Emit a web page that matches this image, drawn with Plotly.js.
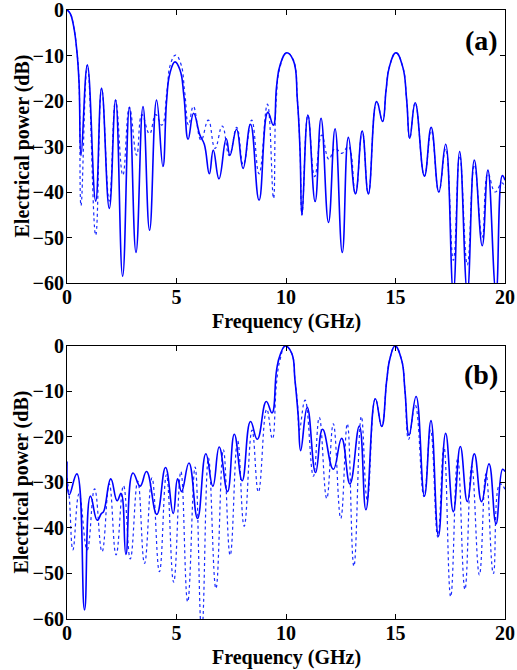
<!DOCTYPE html>
<html>
<head>
<meta charset="utf-8">
<script src="https://cdn.plot.ly/plotly-3.0.1.min.js"></script>
<style>html,body{margin:0;padding:0;background:#fff;}#chart{width:517px;height:670px;}</style>
</head>
<body>
<div id="chart"></div>
<script>
// ---- Panel (a) ----
var aSolidFreq = [0,0.15,0.3,0.45,0.55,0.64,0.93,1.31,1.58,1.93,2.22,2.54,2.85,3.15,3.47,3.77,4.09,4.38,
  4.55,4.7,4.93,5.16,5.34,5.53,5.78,6.07,6.27,6.5,6.68,6.94,7.27,7.44,7.74,8.04,8.38,8.77,9.17,9.42,
  9.57,9.73,10.03,10.33,10.52,10.64,10.73,11.0,11.33,11.6,11.94,12.24,12.57,12.85,13.17,13.48,13.76,14.14,14.41,
  14.57,14.72,15.02,15.33,15.51,15.65,15.9,16.32,16.63,16.98,17.29,17.64,17.93,18.28,18.6,18.96,19.22,19.59,19.88,20];
var aSolidPow = [0,-0.8,-3.5,-9,-16,-32,-12.1,-42,-17.2,-43.6,-19.8,-58.5,-21.4,-53.3,-21.2,-48.4,-19.8,-34.4,
  -19.8,-13.9,-11.4,-13.2,-19,-28.4,-22.7,-27.5,-29.5,-36,-30.8,-37.1,-28.3,-31.9,-26.2,-34.8,-25.1,-41.8,-22.5,-25.3,
  -16.8,-12.1,-9.4,-11,-19.8,-30.8,-45.1,-23.1,-42.1,-23.8,-46.7,-26.1,-53.3,-28,-40.4,-26.6,-40.4,-20.1,-24.5,
  -17.6,-12.5,-9.4,-12.5,-19.8,-28.2,-20.4,-36.5,-25.8,-40,-29.5,-62,-31.1,-62,-33,-51.8,-35.2,-62,-36.4,-37.4];

var aDotFreq = [0,0.15,0.3,0.45,0.55,0.64,0.93,1.31,1.58,1.93,2.22,2.55,2.85,3.18,3.42,3.77,4.05,4.33,
  4.57,4.72,4.96,5.19,5.38,5.55,5.77,6.12,6.45,6.76,7.09,7.41,7.75,8.05,8.43,8.77,9.15,9.43,
  9.55,9.73,10.03,10.33,10.52,10.64,10.73,11.0,11.31,11.63,11.96,12.24,12.55,12.85,13.17,13.48,13.76,14.14,14.41,
  14.57,14.72,15.02,15.33,15.51,15.65,15.9,16.32,16.63,16.98,17.29,17.64,17.93,18.28,18.6,18.96,19.22,19.55,19.86,20];
var aDotPow = [0,-0.8,-3.5,-9,-16,-43,-12.1,-49.5,-17.2,-42,-19.8,-36.3,-21.4,-31.9,-23,-27.2,-23,-25.3,
  -17.6,-12,-9.9,-11.7,-18.3,-25.3,-21.2,-28.6,-24.2,-30.4,-25.5,-32,-25.8,-34,-24.2,-36,-20.7,-41.4,
  -20,-12.5,-9.4,-11,-19.8,-30.8,-45,-23.1,-36.6,-27.5,-32.8,-30.4,-31.5,-30,-40.4,-26.6,-40.4,-20.1,-24.5,
  -17.6,-12.5,-9.4,-12.5,-19.8,-28.2,-20.4,-36.5,-26.5,-40,-30.5,-55,-32,-56,-34,-50,-36,-40,-38,-39];

// ---- Panel (b) ----
var bSolidFreq = [0,0.1,0.45,0.8,1.07,1.38,1.57,1.67,2.0,2.29,2.47,2.69,3.01,3.34,3.63,4.1,4.5,4.85,5.05,5.23,5.57,5.96,6.34,6.66,6.95,7.33,7.64,8.0,8.38,8.69,9.1,9.36,
  9.57,9.73,9.97,10.26,10.41,10.56,10.67,10.97,11.35,11.67,12.16,12.54,12.92,13.35,13.65,14.08,14.37,
  14.6,14.75,14.98,15.28,15.43,15.62,15.94,16.32,16.62,16.96,17.29,17.64,17.96,18.28,18.6,18.93,19.27,19.59,19.89,20];
var bSolidPow = [-25.4,-32.7,-28.1,-58,-33,-38.3,-36.8,-36.4,-29.2,-34,-32.4,-45.8,-27.9,-30.8,-27.6,-37,-26.7,-36.8,-29.2,-32,-25.7,-37.9,-23.7,-30.8,-22.2,-32,-19.4,-29.6,-16.6,-20.5,-12.2,-14.7,
  -5.3,-2,0,-1.6,-7.5,-15.5,-23,-13.5,-27.8,-18.3,-27.1,-20.3,-30.3,-17.6,-36,-11.6,-17.7,
  -7.5,-2.7,0,-3.1,-9.7,-19.6,-11.1,-33,-16.4,-41.8,-19.2,-36.4,-22.1,-34.2,-23.7,-34.2,-25.9,-39.1,-27.1,-27.6];

var bDotFreq = [0,0.1,0.27,0.55,0.92,1.26,1.6,1.93,2.24,2.58,2.89,3.23,3.54,3.88,4.22,4.54,4.87,5.2,5.51,5.85,6.15,6.46,6.8,7.14,7.45,7.79,8.09,8.45,8.74,9.12,9.38,
  9.57,9.73,9.97,10.26,10.41,10.53,10.61,10.87,11.25,11.52,11.86,12.16,12.5,12.8,13.1,13.44,13.71,14.08,14.37,
  14.6,14.75,14.98,15.28,15.43,15.6,15.9,16.3,16.6,16.93,17.21,17.52,17.84,18.17,18.48,18.83,19.13,19.47,19.77,20];
var bDotPow = [-29,-33,-44.8,-32.5,-44.8,-31.4,-45.2,-30.3,-45.9,-30.7,-46.8,-29.7,-47.8,-29,-49.6,-28.3,-51.9,-27.6,-56.2,-26.6,-63,-24.6,-53.3,-22.8,-46,-20.8,-39.6,-18.5,-32.1,-13.9,-20.4,
  -8,-3,0,-1.6,-7.5,-13,-18.5,-11.9,-28.6,-15.7,-33.5,-17.1,-37.9,-17.1,-48.4,-15.5,-33.8,-11.6,-17.7,
  -7.5,-2.7,0,-3.1,-9.7,-20.5,-13,-33.1,-18.5,-42,-22.1,-55.1,-24.7,-53.5,-26.4,-50.3,-28.1,-50,-30.3,-31.5];

var xTicks = [0,5,10,15,20];
var yTicks = [0,-10,-20,-30,-40,-50,-60];
var xTitle = 'Frequency (GHz)';
var yTitle = 'Electrical power (dB)';
var panelLabels = ['(a)', '(b)'];

var FONT = '"Liberation Serif", "Times New Roman", Times, serif';
var solidLine = {color: '#0000ff', width: 1.6, shape: 'spline', smoothing: 1.3};
var dotLine = {color: '#1a2cff', width: 1.2, dash: 'dot', shape: 'spline', smoothing: 1.3};

var traces = [
  {x: aDotFreq, y: aDotPow, mode: 'lines', line: dotLine, xaxis: 'x', yaxis: 'y', hoverinfo: 'skip'},
  {x: aSolidFreq, y: aSolidPow, mode: 'lines', line: solidLine, xaxis: 'x', yaxis: 'y', hoverinfo: 'skip'},
  {x: bDotFreq, y: bDotPow, mode: 'lines', line: dotLine, xaxis: 'x2', yaxis: 'y2', hoverinfo: 'skip'},
  {x: bSolidFreq, y: bSolidPow, mode: 'lines', line: solidLine, xaxis: 'x2', yaxis: 'y2', hoverinfo: 'skip'}
];

var tickFont = {family: FONT, size: 20, color: '#000', weight: 700};
var titleFont = {family: FONT, size: 20, color: '#000', weight: 700};

function xAx(anchor) {
  return {
    anchor: anchor, domain: [0, 1], range: [0, 20], tickvals: xTicks,
    showline: true, mirror: 'ticks', linecolor: '#000', linewidth: 1,
    ticks: 'inside', ticklen: 5, tickcolor: '#000', showgrid: false, zeroline: false,
    tickfont: tickFont, ticklabelstandoff: -4, ticklabeloverflow: 'allow',
    automargin: false
  };
}
function yAx(anchor, domain) {
  return {
    anchor: anchor, domain: domain, range: [-60, 0], tickvals: yTicks,
    showline: true, mirror: 'ticks', linecolor: '#000', linewidth: 1,
    ticks: 'inside', ticklen: 5, tickcolor: '#000', showgrid: false, zeroline: false,
    tickfont: tickFont, ticklabelstandoff: -2, ticklabeloverflow: 'allow',
    automargin: false
  };
}

function note(text, x, y, angle, font, xanchor) {
  return {text: text, xref: 'paper', yref: 'paper', x: x, y: y, xanchor: xanchor || 'center', yanchor: 'middle',
          textangle: angle, showarrow: false, font: font};
}
var labelFont = {family: FONT, size: 28, color: '#000', weight: 700};

var layout = {
  width: 517, height: 670,
  margin: {l: 67, r: 12, t: 10, b: 51},
  paper_bgcolor: '#fff', plot_bgcolor: '#fff',
  showlegend: false,
  xaxis: xAx('y'),
  yaxis: yAx('x', [0.5517, 1]),
  xaxis2: xAx('y2'),
  yaxis2: yAx('x2', [0, 0.4483]),
  annotations: [
    note(xTitle, 0.5, 0.4893, 0, titleFont),
    note(xTitle, 0.5, -0.0640, 0, titleFont),
    note(yTitle, -0.1027, 0.7759, -90, titleFont),
    note(yTitle, -0.1027, 0.2241, -90, titleFont),
    note(panelLabels[0], 0.9886, 0.9507, 0, labelFont, 'right'),
    note(panelLabels[1], 0.9886, 0.4007, 0, labelFont, 'right')
  ]
};

Plotly.newPlot('chart', traces, layout, {staticPlot: true, displayModeBar: false});
</script>
</body>
</html>
